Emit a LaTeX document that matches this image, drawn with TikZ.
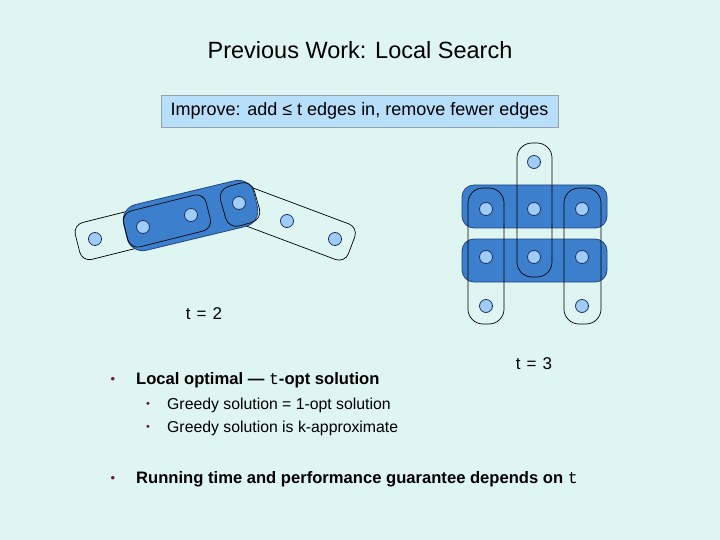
\documentclass[tikz,border=0pt]{standalone}
\usepackage{fontspec}
\setmainfont{Liberation Sans}
\newfontfamily\cour{Liberation Mono}
\definecolor{bg}{RGB}{222,245,241}
\definecolor{boxfill}{RGB}{183,223,249}
\definecolor{boxline}{RGB}{150,160,170}
\definecolor{dark}{RGB}{60,128,205}
\definecolor{darkline}{RGB}{35,70,130}
\definecolor{dotfill}{RGB}{160,204,250}
\definecolor{dotline}{RGB}{30,50,100}
\definecolor{bul}{RGB}{110,25,55}
\begin{document}
\begin{tikzpicture}[x=1pt,y=-1pt,
 dot/.style={circle,draw=dotline,fill=dotfill,line width=0.8pt,minimum size=13pt,inner sep=0},
 hedge/.style={draw=black,line width=0.7pt,rounded corners=10pt,inner sep=0},
 sel/.style={draw=darkline,fill=dark,line width=0.8pt,rounded corners=12pt,inner sep=0},
 txt/.style={inner sep=0,anchor=west},
 bigtxt/.style={font=\fontsize{16.6}{20}\selectfont\bfseries},
 smalltxt/.style={font=\fontsize{15.8}{18}\selectfont},
 bulmark/.style={inner sep=0,text=bul,font=\fontsize{13}{14}\selectfont}]
\fill[bg] (0,0) rectangle (720,540);
\useasboundingbox (0,0) rectangle (720,540);

% title
\node[inner sep=0] (title) at (360,50) {\fontsize{23.5}{28}\selectfont Previous Work: Local Search};
\node[draw=boxline,fill=boxfill,line width=0.8pt,minimum width=397pt,minimum height=32pt,inner sep=0] (box) at (359.5,111)
  {\fontsize{18}{20}\selectfont Improve: add ≤ t edges in, remove fewer edges};

% left figure
\node[hedge,minimum width=135pt,minimum height=38pt,rotate=14.04] (e1) at (143,227) {};
\node[hedge,minimum width=138pt,minimum height=38pt,rotate=-20.56] (e2) at (287,221) {};
\node[sel,rounded corners=16pt,minimum width=134pt,minimum height=47pt,rotate=13.5] (s1) at (190.5,215.5) {};
\node[hedge,minimum width=85pt,minimum height=37pt,rotate=14.04] (e3) at (167,221) {};
\node[hedge,rounded corners=11pt,minimum width=35pt,minimum height=41pt,rotate=16] (e4) at (240,204.5) {};
\node[dot] (a1) at (95,239) {};
\node[dot] (a2) at (143,227) {};
\node[dot] (a3) at (191,215) {};
\node[dot] (a4) at (239,203) {};
\node[dot] (a5) at (287,221) {};
\node[dot] (a6) at (335,239) {};

% right figure
\node[sel,minimum width=145pt,minimum height=43pt] (r1) at (534.5,206.5) {};
\node[sel,minimum width=145pt,minimum height=43pt] (r2) at (534.5,260.5) {};
\node[hedge,rounded corners=15pt,minimum width=35pt,minimum height=134pt] (c2) at (534.5,210) {};
\node[hedge,rounded corners=15pt,minimum width=36pt,minimum height=136pt] (c1) at (486,256) {};
\node[hedge,rounded corners=15pt,minimum width=37pt,minimum height=136pt] (c3) at (582.5,256) {};
\node[dot] (b0) at (534,162) {};
\node[dot] (b1) at (486,209) {};
\node[dot] (b2) at (534,209) {};
\node[dot] (b3) at (582,209) {};
\node[dot] (b4) at (486,257) {};
\node[dot] (b5) at (534,257) {};
\node[dot] (b6) at (582,257) {};
\node[dot] (b7) at (486,306) {};
\node[dot] (b8) at (582,306) {};

% labels
\node[inner sep=0] (t2) at (204,314) {\fontsize{17}{20}\selectfont t\hspace{6pt}=\hspace{6pt}2};
\node[inner sep=0] (t3) at (534,364) {\fontsize{17}{20}\selectfont t\hspace{6pt}=\hspace{6pt}3};

% bullets
\node[bulmark] (m1) at (113,380) {•};
\node[txt,bigtxt] (l1) at (136,380) {Local optimal — {\cour\mdseries t}-opt solution};
\node[bulmark,font=\fontsize{11}{12}\selectfont] (m2) at (148,405) {•};
\node[txt,smalltxt] (l2) at (167,405) {Greedy solution = 1-opt solution};
\node[bulmark,font=\fontsize{11}{12}\selectfont] (m3) at (148,428) {•};
\node[txt,smalltxt] (l3) at (167,428) {Greedy solution is k-approximate};
\node[bulmark] (m4) at (113,479) {•};
\node[txt,bigtxt] (l4) at (136,479) {Running time and performance guarantee depends on {\cour\mdseries t}};
\end{tikzpicture}
\end{document}
